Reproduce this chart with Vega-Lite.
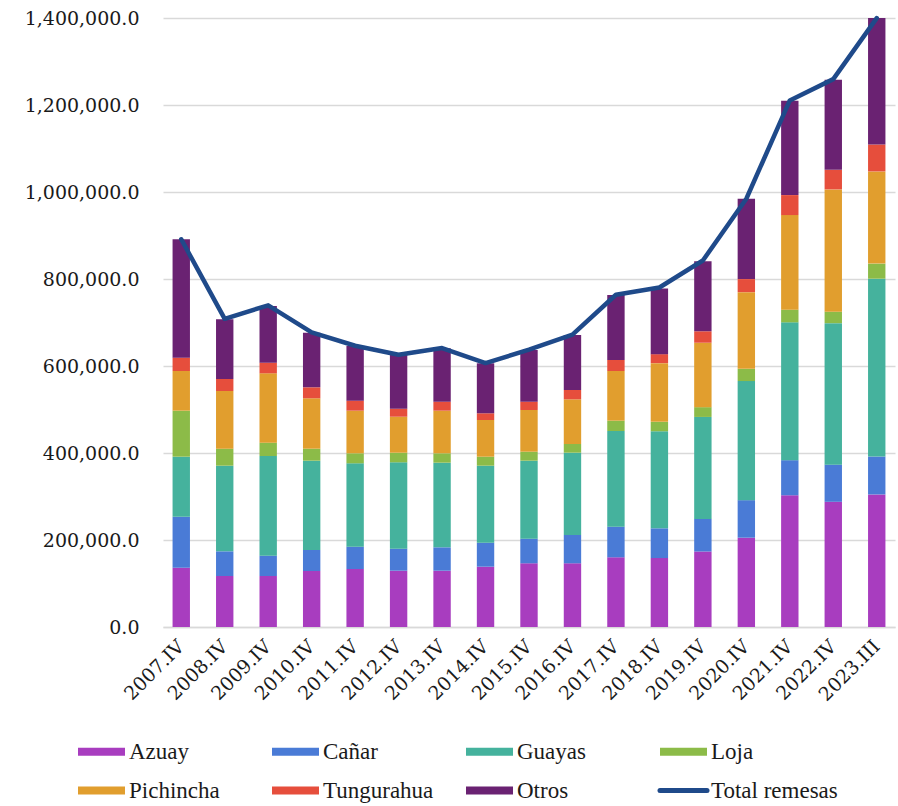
{
  "$schema": "https://vega.github.io/schema/vega-lite/v6.json",
  "autosize": {"type": "none"},
  "width": 732,
  "height": 609,
  "padding": {"left": 163, "top": 18, "right": 3, "bottom": 179},
  "background": "white",
  "config": {
    "view": {"stroke": null},
    "font": "DejaVu Serif"
  },
  "datasets": {
    "remesas": [
      {"periodo": "2007.IV", "provincia": "Azuay", "orden": 1, "valor": 136300},
      {"periodo": "2007.IV", "provincia": "Cañar", "orden": 2, "valor": 117300},
      {"periodo": "2007.IV", "provincia": "Guayas", "orden": 3, "valor": 137900},
      {"periodo": "2007.IV", "provincia": "Loja", "orden": 4, "valor": 105800},
      {"periodo": "2007.IV", "provincia": "Pichincha", "orden": 5, "valor": 91200},
      {"periodo": "2007.IV", "provincia": "Tungurahua", "orden": 6, "valor": 30600},
      {"periodo": "2007.IV", "provincia": "Otros", "orden": 7, "valor": 272200},
      {"periodo": "2008.IV", "provincia": "Azuay", "orden": 1, "valor": 117200},
      {"periodo": "2008.IV", "provincia": "Cañar", "orden": 2, "valor": 56800},
      {"periodo": "2008.IV", "provincia": "Guayas", "orden": 3, "valor": 196800},
      {"periodo": "2008.IV", "provincia": "Loja", "orden": 4, "valor": 39100},
      {"periodo": "2008.IV", "provincia": "Pichincha", "orden": 5, "valor": 132600},
      {"periodo": "2008.IV", "provincia": "Tungurahua", "orden": 6, "valor": 27600},
      {"periodo": "2008.IV", "provincia": "Otros", "orden": 7, "valor": 137300},
      {"periodo": "2009.IV", "provincia": "Azuay", "orden": 1, "valor": 117200},
      {"periodo": "2009.IV", "provincia": "Cañar", "orden": 2, "valor": 46700},
      {"periodo": "2009.IV", "provincia": "Guayas", "orden": 3, "valor": 229200},
      {"periodo": "2009.IV", "provincia": "Loja", "orden": 4, "valor": 30600},
      {"periodo": "2009.IV", "provincia": "Pichincha", "orden": 5, "valor": 159500},
      {"periodo": "2009.IV", "provincia": "Tungurahua", "orden": 6, "valor": 24400},
      {"periodo": "2009.IV", "provincia": "Otros", "orden": 7, "valor": 130400},
      {"periodo": "2010.IV", "provincia": "Azuay", "orden": 1, "valor": 128700},
      {"periodo": "2010.IV", "provincia": "Cañar", "orden": 2, "valor": 48300},
      {"periodo": "2010.IV", "provincia": "Guayas", "orden": 3, "valor": 205300},
      {"periodo": "2010.IV", "provincia": "Loja", "orden": 4, "valor": 27600},
      {"periodo": "2010.IV", "provincia": "Pichincha", "orden": 5, "valor": 115900},
      {"periodo": "2010.IV", "provincia": "Tungurahua", "orden": 6, "valor": 25200},
      {"periodo": "2010.IV", "provincia": "Otros", "orden": 7, "valor": 125600},
      {"periodo": "2011.IV", "provincia": "Azuay", "orden": 1, "valor": 133300},
      {"periodo": "2011.IV", "provincia": "Cañar", "orden": 2, "valor": 51300},
      {"periodo": "2011.IV", "provincia": "Guayas", "orden": 3, "valor": 191700},
      {"periodo": "2011.IV", "provincia": "Loja", "orden": 4, "valor": 23000},
      {"periodo": "2011.IV", "provincia": "Pichincha", "orden": 5, "valor": 98000},
      {"periodo": "2011.IV", "provincia": "Tungurahua", "orden": 6, "valor": 23000},
      {"periodo": "2011.IV", "provincia": "Otros", "orden": 7, "valor": 125700},
      {"periodo": "2012.IV", "provincia": "Azuay", "orden": 1, "valor": 129400},
      {"periodo": "2012.IV", "provincia": "Cañar", "orden": 2, "valor": 50600},
      {"periodo": "2012.IV", "provincia": "Guayas", "orden": 3, "valor": 198600},
      {"periodo": "2012.IV", "provincia": "Loja", "orden": 4, "valor": 22100},
      {"periodo": "2012.IV", "provincia": "Pichincha", "orden": 5, "valor": 82700},
      {"periodo": "2012.IV", "provincia": "Tungurahua", "orden": 6, "valor": 18400},
      {"periodo": "2012.IV", "provincia": "Otros", "orden": 7, "valor": 123500},
      {"periodo": "2013.IV", "provincia": "Azuay", "orden": 1, "valor": 129400},
      {"periodo": "2013.IV", "provincia": "Cañar", "orden": 2, "valor": 53800},
      {"periodo": "2013.IV", "provincia": "Guayas", "orden": 3, "valor": 194500},
      {"periodo": "2013.IV", "provincia": "Loja", "orden": 4, "valor": 21600},
      {"periodo": "2013.IV", "provincia": "Pichincha", "orden": 5, "valor": 98000},
      {"periodo": "2013.IV", "provincia": "Tungurahua", "orden": 6, "valor": 20600},
      {"periodo": "2013.IV", "provincia": "Otros", "orden": 7, "valor": 122800},
      {"periodo": "2014.IV", "provincia": "Azuay", "orden": 1, "valor": 138600},
      {"periodo": "2014.IV", "provincia": "Cañar", "orden": 2, "valor": 55200},
      {"periodo": "2014.IV", "provincia": "Guayas", "orden": 3, "valor": 177000},
      {"periodo": "2014.IV", "provincia": "Loja", "orden": 4, "valor": 20700},
      {"periodo": "2014.IV", "provincia": "Pichincha", "orden": 5, "valor": 84400},
      {"periodo": "2014.IV", "provincia": "Tungurahua", "orden": 6, "valor": 15400},
      {"periodo": "2014.IV", "provincia": "Otros", "orden": 7, "valor": 114900},
      {"periodo": "2015.IV", "provincia": "Azuay", "orden": 1, "valor": 146400},
      {"periodo": "2015.IV", "provincia": "Cañar", "orden": 2, "valor": 56600},
      {"periodo": "2015.IV", "provincia": "Guayas", "orden": 3, "valor": 179300},
      {"periodo": "2015.IV", "provincia": "Loja", "orden": 4, "valor": 20700},
      {"periodo": "2015.IV", "provincia": "Pichincha", "orden": 5, "valor": 95900},
      {"periodo": "2015.IV", "provincia": "Tungurahua", "orden": 6, "valor": 19000},
      {"periodo": "2015.IV", "provincia": "Otros", "orden": 7, "valor": 118900},
      {"periodo": "2016.IV", "provincia": "Azuay", "orden": 1, "valor": 146400},
      {"periodo": "2016.IV", "provincia": "Cañar", "orden": 2, "valor": 65100},
      {"periodo": "2016.IV", "provincia": "Guayas", "orden": 3, "valor": 189200},
      {"periodo": "2016.IV", "provincia": "Loja", "orden": 4, "valor": 20000},
      {"periodo": "2016.IV", "provincia": "Pichincha", "orden": 5, "valor": 102700},
      {"periodo": "2016.IV", "provincia": "Tungurahua", "orden": 6, "valor": 21400},
      {"periodo": "2016.IV", "provincia": "Otros", "orden": 7, "valor": 126500},
      {"periodo": "2017.IV", "provincia": "Azuay", "orden": 1, "valor": 160200},
      {"periodo": "2017.IV", "provincia": "Cañar", "orden": 2, "valor": 70400},
      {"periodo": "2017.IV", "provincia": "Guayas", "orden": 3, "valor": 220000},
      {"periodo": "2017.IV", "provincia": "Loja", "orden": 4, "valor": 23700},
      {"periodo": "2017.IV", "provincia": "Pichincha", "orden": 5, "valor": 114200},
      {"periodo": "2017.IV", "provincia": "Tungurahua", "orden": 6, "valor": 25300},
      {"periodo": "2017.IV", "provincia": "Otros", "orden": 7, "valor": 149400},
      {"periodo": "2018.IV", "provincia": "Azuay", "orden": 1, "valor": 158500},
      {"periodo": "2018.IV", "provincia": "Cañar", "orden": 2, "valor": 68400},
      {"periodo": "2018.IV", "provincia": "Guayas", "orden": 3, "valor": 223100},
      {"periodo": "2018.IV", "provincia": "Loja", "orden": 4, "valor": 21600},
      {"periodo": "2018.IV", "provincia": "Pichincha", "orden": 5, "valor": 135000},
      {"periodo": "2018.IV", "provincia": "Tungurahua", "orden": 6, "valor": 20600},
      {"periodo": "2018.IV", "provincia": "Otros", "orden": 7, "valor": 151000},
      {"periodo": "2019.IV", "provincia": "Azuay", "orden": 1, "valor": 173500},
      {"periodo": "2019.IV", "provincia": "Cañar", "orden": 2, "valor": 75000},
      {"periodo": "2019.IV", "provincia": "Guayas", "orden": 3, "valor": 234400},
      {"periodo": "2019.IV", "provincia": "Loja", "orden": 4, "valor": 22500},
      {"periodo": "2019.IV", "provincia": "Pichincha", "orden": 5, "valor": 148100},
      {"periodo": "2019.IV", "provincia": "Tungurahua", "orden": 6, "valor": 26300},
      {"periodo": "2019.IV", "provincia": "Otros", "orden": 7, "valor": 161200},
      {"periodo": "2020.IV", "provincia": "Azuay", "orden": 1, "valor": 205300},
      {"periodo": "2020.IV", "provincia": "Cañar", "orden": 2, "valor": 86300},
      {"periodo": "2020.IV", "provincia": "Guayas", "orden": 3, "valor": 273800},
      {"periodo": "2020.IV", "provincia": "Loja", "orden": 4, "valor": 28100},
      {"periodo": "2020.IV", "provincia": "Pichincha", "orden": 5, "valor": 176300},
      {"periodo": "2020.IV", "provincia": "Tungurahua", "orden": 6, "valor": 30000},
      {"periodo": "2020.IV", "provincia": "Otros", "orden": 7, "valor": 184700},
      {"periodo": "2021.IV", "provincia": "Azuay", "orden": 1, "valor": 302800},
      {"periodo": "2021.IV", "provincia": "Cañar", "orden": 2, "valor": 80700},
      {"periodo": "2021.IV", "provincia": "Guayas", "orden": 3, "valor": 316900},
      {"periodo": "2021.IV", "provincia": "Loja", "orden": 4, "valor": 29100},
      {"periodo": "2021.IV", "provincia": "Pichincha", "orden": 5, "valor": 217500},
      {"periodo": "2021.IV", "provincia": "Tungurahua", "orden": 6, "valor": 45900},
      {"periodo": "2021.IV", "provincia": "Otros", "orden": 7, "valor": 216600},
      {"periodo": "2022.IV", "provincia": "Azuay", "orden": 1, "valor": 287800},
      {"periodo": "2022.IV", "provincia": "Cañar", "orden": 2, "valor": 85400},
      {"periodo": "2022.IV", "provincia": "Guayas", "orden": 3, "valor": 325300},
      {"periodo": "2022.IV", "provincia": "Loja", "orden": 4, "valor": 26300},
      {"periodo": "2022.IV", "provincia": "Pichincha", "orden": 5, "valor": 281200},
      {"periodo": "2022.IV", "provincia": "Tungurahua", "orden": 6, "valor": 45000},
      {"periodo": "2022.IV", "provincia": "Otros", "orden": 7, "valor": 207000},
      {"periodo": "2023.III", "provincia": "Azuay", "orden": 1, "valor": 304700},
      {"periodo": "2023.III", "provincia": "Cañar", "orden": 2, "valor": 87200},
      {"periodo": "2023.III", "provincia": "Guayas", "orden": 3, "valor": 408800},
      {"periodo": "2023.III", "provincia": "Loja", "orden": 4, "valor": 34700},
      {"periodo": "2023.III", "provincia": "Pichincha", "orden": 5, "valor": 211900},
      {"periodo": "2023.III", "provincia": "Tungurahua", "orden": 6, "valor": 61900},
      {"periodo": "2023.III", "provincia": "Otros", "orden": 7, "valor": 290600}
    ],
    "totales": [
      {"periodo": "2007.IV", "total": 891300},
      {"periodo": "2008.IV", "total": 708500},
      {"periodo": "2009.IV", "total": 739500},
      {"periodo": "2010.IV", "total": 677500},
      {"periodo": "2011.IV", "total": 646500},
      {"periodo": "2012.IV", "total": 625800},
      {"periodo": "2013.IV", "total": 641200},
      {"periodo": "2014.IV", "total": 606800},
      {"periodo": "2015.IV", "total": 637500},
      {"periodo": "2016.IV", "total": 672000},
      {"periodo": "2017.IV", "total": 763800},
      {"periodo": "2018.IV", "total": 780500},
      {"periodo": "2019.IV", "total": 842500},
      {"periodo": "2020.IV", "total": 984500},
      {"periodo": "2021.IV", "total": 1210500},
      {"periodo": "2022.IV", "total": 1259500},
      {"periodo": "2023.III", "total": 1399800}
    ]
  },
  "encoding": {
    "x": {
      "field": "periodo",
      "type": "nominal",
      "sort": null,
      "title": null,
      "scale": {"paddingInner": 0.6, "paddingOuter": 0.22},
      "axis": {
        "labelAngle": -45,
        "labelFont": "DejaVu Serif",
        "labelFontSize": 19,
        "labelColor": "#1a1a1a",
        "ticks": false,
        "labelPadding": 16,
        "domainColor": "#d9d9d9",
        "domainWidth": 1.5,
        "labelAlign": "right",
        "labelBaseline": "middle"
      }
    }
  },
  "layer": [
    {
      "data": {"name": "remesas"},
      "mark": {"type": "bar"},
      "encoding": {
        "y": {
          "field": "valor",
          "type": "quantitative",
          "stack": "zero",
          "title": null,
          "scale": {"domain": [0, 1400000], "nice": false},
          "axis": {
            "values": [0, 200000, 400000, 600000, 800000, 1000000, 1200000, 1400000],
            "format": ",.1f",
            "labelFont": "DejaVu Serif",
            "labelFontSize": 19,
            "labelColor": "#1a1a1a",
            "labelPadding": 24,
            "ticks": false,
            "domain": false,
            "gridColor": "#d9d9d9",
            "gridWidth": 1.5
          }
        },
        "order": {"field": "orden", "type": "quantitative", "sort": "ascending"},
        "color": {
          "field": "provincia",
          "type": "nominal",
          "scale": {
            "domain": ["Azuay", "Cañar", "Guayas", "Loja", "Pichincha", "Tungurahua", "Otros", "Total remesas"],
            "range": ["#a83dbf", "#4a7bd6", "#45b29d", "#8cbb48", "#e19e2e", "#e64e3c", "#6a2272", "#1f4a8a"]
          },
          "legend": {
            "title": null,
            "orient": "none",
            "legendX": -73,
            "legendY": 722,
            "direction": "horizontal",
            "columns": 4,
            "gridAlign": "all",
            "symbolType": "stroke",
            "symbolSize": 2209,
            "symbolStrokeWidth": 8,
            "labelFont": "Liberation Serif",
            "labelFontSize": 23,
            "labelColor": "#1a1a1a",
            "labelOffset": 16,
            "labelLimit": 300,
            "columnPadding": 0,
            "rowPadding": 6,
            "encode": {
              "symbols": {
                "update": {
                  "stroke": {"scale": "color", "field": "value"},
                  "strokeWidth": {"signal": "datum.value === 'Total remesas' ? 5 : 8"},
                  "strokeCap": {"signal": "datum.value === 'Total remesas' ? 'round' : 'butt'"}
                }
              }
            }
          }
        }
      }
    },
    {
      "data": {"name": "totales"},
      "mark": {"type": "line", "strokeWidth": 4.5, "strokeCap": "round", "strokeJoin": "round"},
      "encoding": {
        "y": {"field": "total", "type": "quantitative"},
        "color": {"datum": "Total remesas"}
      }
    }
  ]
}
